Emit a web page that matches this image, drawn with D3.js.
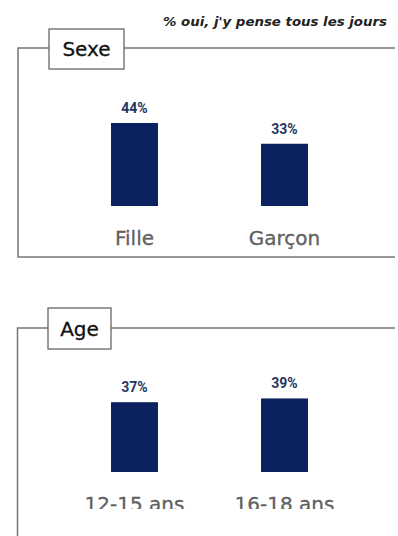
<!DOCTYPE html>
<html>
<head>
<meta charset="utf-8">
<script src="https://cdn.jsdelivr.net/npm/d3@7"></script>
<style>
  body { margin: 0; background: #fff; }
  svg { display: block; }
</style>
</head>
<body>
<svg id="chart" width="398" height="536"></svg>
<script>
// % oui, j'y pense tous les jours
var subtitle = "% oui, j'y pense tous les jours";
var panelTitles = ["Sexe", "Age"];
var sexeCats = ["Fille", "Garçon"];
var sexeValues = [44, 33];
var ageCats = ["12-15 ans", "16-18 ans"];
var ageValues = [37, 39];

const svg = d3.select("#chart");
const W = 398;
const barColor = "#0b2160";
const lineColor = "#767676";

svg.append("text")
    .attr("x", 163)
    .attr("y", 26)
    .attr("textLength", 224)
    .attr("lengthAdjust", "spacingAndGlyphs")
    .attr("font-family", "DejaVu Sans")
    .attr("font-weight", "bold")
    .attr("font-style", "italic")
    .attr("font-size", 13)
    .attr("fill", "#222")
    .text(subtitle);

// clip for the cropped bottom of the picture
svg.append("clipPath").attr("id", "crop")
  .append("rect")
    .attr("x", 0).attr("y", 0)
    .attr("width", W).attr("height", 509);

const panels = [
    {title: panelTitles[0], cats: sexeCats, values: sexeValues,
     top: 48, bottom: 257, left: 18, base: 206, box: [49, 29, 75, 40]},
    {title: panelTitles[1], cats: ageCats, values: ageValues,
     top: 328, bottom: null, left: 17.5, base: 472, box: [48, 308, 63, 41]}
];

const x = d3.scaleBand()
    .range([59.5, 359.5])
    .paddingInner(0.687)
    .paddingOuter(0.3435);

panels.forEach(p => {
    const g = svg.append("g");
    x.domain(p.cats);
    const y = d3.scaleLinear().domain([0, 44]).range([p.base, p.base - 83]);

    // frame
    let path = `M${W - 3},${p.top}H${p.left}V${p.bottom == null ? 536 : p.bottom}`;
    if (p.bottom != null) path += `H${W - 3}`;
    g.append("path")
        .attr("d", path)
        .attr("fill", "none")
        .attr("stroke", lineColor)
        .attr("stroke-width", 1.5);

    // title box
    g.append("rect")
        .attr("x", p.box[0]).attr("y", p.box[1])
        .attr("width", p.box[2]).attr("height", p.box[3])
        .attr("fill", "#fff")
        .attr("stroke", "#666")
        .attr("stroke-width", 1.3);
    g.append("text")
        .attr("x", p.box[0] + p.box[2] / 2)
        .attr("y", p.box[1] + p.box[3] / 2 + 7)
        .attr("text-anchor", "middle")
        .attr("font-family", "DejaVu Sans")
        .attr("font-size", 20)
        .attr("fill", "#111")
        .attr("stroke", "#111")
        .attr("stroke-width", 0.3)
        .text(p.title);

    const data = p.cats.map((c, i) => ({cat: c, value: p.values[i]}));

    g.selectAll("rect.bar")
        .data(data)
      .enter().append("rect")
        .classed("bar", true)
        .attr("x", d => x(d.cat))
        .attr("width", x.bandwidth())
        .attr("y", d => y(d.value))
        .attr("height", d => y(0) - y(d.value))
        .attr("fill", barColor);

    g.selectAll("text.val")
        .data(data)
      .enter().append("text")
        .classed("val", true)
        .attr("x", d => x(d.cat) + x.bandwidth() / 2)
        .attr("y", d => y(d.value) - 10)
        .attr("text-anchor", "middle")
        .attr("font-family", "Roboto")
        .attr("font-weight", "bold")
        .attr("font-size", 14)
        .attr("fill", "#26365c")
        .text(d => d.value + "%");

    g.selectAll("text.cat")
        .data(data)
      .enter().append("text")
        .classed("cat", true)
        .attr("clip-path", "url(#crop)")
        .attr("x", d => x(d.cat) + x.bandwidth() / 2)
        .attr("y", y(0) + 39)
        .attr("text-anchor", "middle")
        .attr("font-family", "DejaVu Sans")
        .attr("font-size", 20)
        .attr("fill", "#606060")
        .attr("stroke", "#606060")
        .attr("stroke-width", 0.3)
        .text(d => d.cat);
});
</script>
</body>
</html>
